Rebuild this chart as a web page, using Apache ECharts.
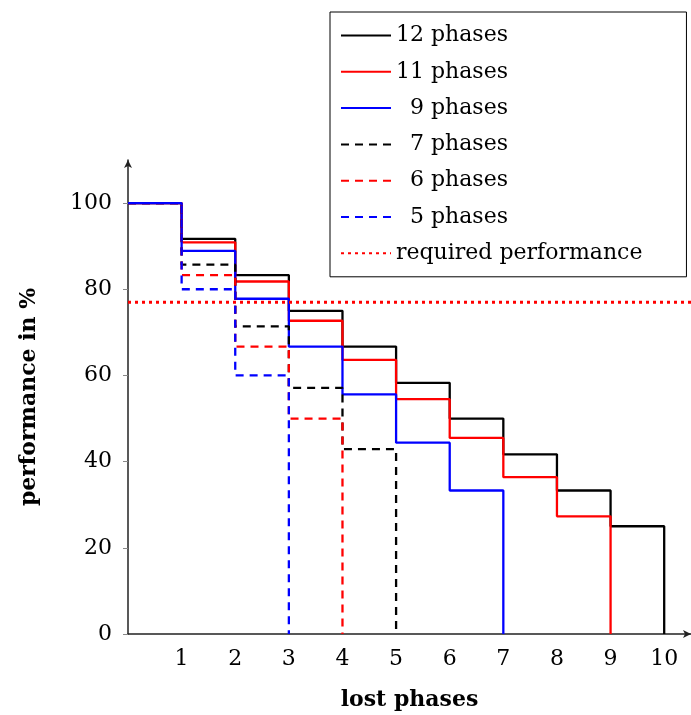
<!DOCTYPE html>
<html>
<head>
<meta charset="utf-8">
<script src="https://cdn.jsdelivr.net/npm/echarts@6/dist/echarts.min.js"></script>
<style>html,body{margin:0;padding:0;background:#fff}#c{width:691px;height:715px}</style>
</head>
<body>
<div id="c"></div>
<script>
// lost phases (x) and performance in % (y) for each configuration
const lostPhases = [0, 1, 2, 3, 4, 5, 6, 7, 8, 9, 10];
const perf12 = [100, 91.7, 83.3, 75, 66.7, 58.3, 50, 41.7, 33.3, 25, 0];
const perf11 = [100, 90.9, 81.8, 72.7, 63.6, 54.5, 45.5, 36.4, 27.3, 0];
const perf9  = [100, 88.9, 77.8, 66.7, 55.6, 44.4, 33.3, 0];
const perf7  = [100, 85.7, 71.4, 57.1, 42.9, 0];
const perf6  = [100, 83.3, 66.7, 50, 0];
const perf5  = [100, 80, 60, 0];
const requiredPerf = 77;
const requiredRange = [0, 10.5];
const yTicks = [0, 20, 40, 60, 80, 100];
const xTicks = [1, 2, 3, 4, 5, 6, 7, 8, 9, 10];
const seriesNames = ['12 phases', '11 phases', '9 phases', '7 phases', '6 phases', '5 phases', 'required performance'];

const FONT = 'DejaVu Serif';
function pts(vals) { return vals.map((v, i) => [lostPhases[i], v]); }
function stepSeries(name, vals, color, type) {
  return {
    name, type: 'line', step: 'end', data: pts(vals), symbol: 'none',
    lineStyle: { color, width: 2.3, type }, itemStyle: { color }, z: 3
  };
}

const chart = echarts.init(document.getElementById('c'), null, { renderer: 'canvas' });
chart.setOption({
  animation: false,
  backgroundColor: '#fff',
  grid: { left: 128, right: 0, top: 160, bottom: 81, containLabel: false, outerBoundsMode: 'none' },
  xAxis: {
    type: 'value', min: 0, max: 10.5, interval: 1,
    name: 'lost phases', nameLocation: 'middle', nameGap: 55,
    nameTextStyle: { fontFamily: FONT, fontWeight: 'bold', fontSize: 22, color: '#000' },
    axisLine: { lineStyle: { color: '#222', width: 1.5 }, symbol: ['none', 'arrow'], symbolSize: [6, 8] },
    axisTick: { show: false },
    axisLabel: { customValues: xTicks, fontFamily: FONT, fontSize: 22, color: '#000', margin: 14 },
    splitLine: { show: false }
  },
  yAxis: {
    type: 'value', min: 0, max: 110, interval: 20,
    name: 'performance in %', nameLocation: 'middle', nameGap: 88,
    nameTextStyle: { fontFamily: FONT, fontWeight: 'bold', fontSize: 22, color: '#000' },
    axisLine: { show: true, lineStyle: { color: '#222', width: 1.5 }, symbol: ['none', 'arrow'], symbolSize: [6, 8] },
    axisTick: { show: true, customValues: yTicks, length: 5, lineStyle: { color: '#888' } },
    axisLabel: { customValues: yTicks, fontFamily: FONT, fontSize: 22, color: '#000', margin: 16 },
    splitLine: { show: false }
  },
  legend: {
    orient: 'vertical', left: 330, top: 12,
    padding: [12, 44, 12, 10],
    backgroundColor: '#fff', borderColor: '#000', borderWidth: 1, borderRadius: 0,
    itemWidth: 50, itemHeight: 14, itemGap: 13.3,
    itemStyle: { opacity: 0 },
    data: seriesNames,
    formatter: function (n) {
      const m = n.match(/^(\d) phases$/);
      return m ? '\u2007' + n : n;
    },
    textStyle: { fontFamily: FONT, fontSize: 22, color: '#000', lineHeight: 23 }
  },
  series: [
    stepSeries(seriesNames[0], perf12, '#000000', 'solid'),
    stepSeries(seriesNames[1], perf11, '#ff0000', 'solid'),
    stepSeries(seriesNames[2], perf9, '#0000ff', 'solid'),
    stepSeries(seriesNames[3], perf7, '#000000', [8, 6]),
    stepSeries(seriesNames[4], perf6, '#ff0000', [8, 6]),
    stepSeries(seriesNames[5], perf5, '#0000ff', [8, 6]),
    {
      name: seriesNames[6], type: 'line', symbol: 'none',
      data: requiredRange.map(x => [x, requiredPerf]),
      lineStyle: { color: '#ff0000', width: 3, type: [3, 4] }, itemStyle: { color: '#ff0000' }, z: 4
    }
  ]
});
</script>
</body>
</html>
